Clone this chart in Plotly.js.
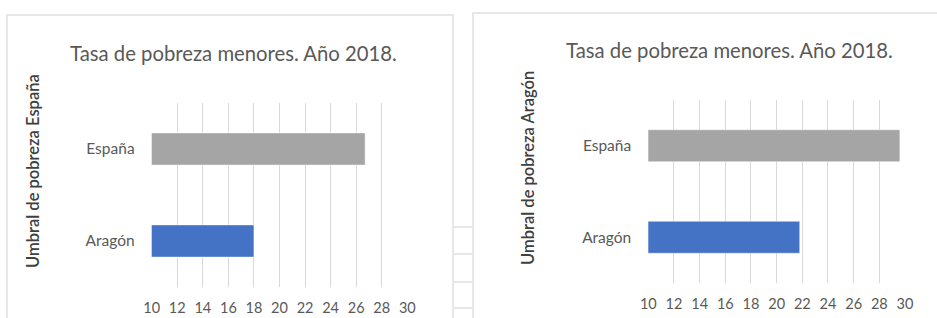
<!DOCTYPE html>
<html><head><meta charset="utf-8">
<script src="https://cdn.plot.ly/plotly-3.0.1.min.js"></script>
<style>html,body{margin:0;padding:0;background:#fff}#chart{width:937px;height:318px}</style>
</head><body><div id="chart"></div>
<script>
const categories = ['Aragón', 'España'];
const umbralEspana = [18.0, 26.7];
const umbralAragon = [21.8, 29.6];
const barColors = ['#4472c4', '#a5a5a5'];
const xTicks = [10, 12, 14, 16, 18, 20, 22, 24, 26, 28, 30];
const chartTitle = 'Tasa de pobreza menores. Año 2018.';
const yTitles = ['Umbral de pobreza España', 'Umbral de pobreza Aragón'];

const W = 937, H = 318;
const px = v => v / W, py = v => 1 - v / H;
const FONT = 'Lato, "Open Sans", sans-serif';
const TXT = '#595959';

const traces = [
  {type: 'bar', orientation: 'h', y: categories, x: umbralEspana, xaxis: 'x', yaxis: 'y',
   marker: {color: barColors, line: {color: '#ffffff', width: 0.5}}, hoverinfo: 'x'},
  {type: 'bar', orientation: 'h', y: categories, x: umbralAragon, xaxis: 'x2', yaxis: 'y2',
   marker: {color: barColors, line: {color: '#ffffff', width: 0.5}}, hoverinfo: 'x'}
];

function xax(d0, d1, anchor) {
  return {domain: [px(d0), px(d1)], anchor: anchor, range: [10, 30], tickvals: xTicks,
    showgrid: true, gridcolor: '#d9d9d9', gridwidth: 1, zeroline: false, showline: false,
    ticks: 'outside', ticklen: 8, tickcolor: 'rgba(0,0,0,0)',
    tickfont: {family: FONT, size: 14.5, color: TXT}, fixedrange: true};
}
function yax(top, bot, anchor) {
  return {domain: [py(bot), py(top)], anchor: anchor, type: 'category',
    showgrid: false, zeroline: false, showline: false,
    ticks: 'outside', ticklen: 13, tickcolor: 'rgba(0,0,0,0)',
    tickfont: {family: FONT, size: 15.5, color: TXT}, fixedrange: true};
}

const layout = {
  width: W, height: H, margin: {l: 0, r: 0, t: 0, b: 0},
  paper_bgcolor: '#ffffff', plot_bgcolor: 'rgba(0,0,0,0)',
  showlegend: false, bargap: 0.65,
  xaxis: xax(151.7, 407.3, 'y'),
  yaxis: yax(103, 287, 'x'),
  xaxis2: xax(648.3, 905, 'y2'),
  yaxis2: yax(100, 283, 'x2'),
  annotations: [
    {text: chartTitle, xref: 'paper', yref: 'paper', x: px(233), y: py(53), showarrow: false,
     xanchor: 'center', yanchor: 'middle', font: {family: FONT, size: 20.3, color: TXT}},
    {text: chartTitle, xref: 'paper', yref: 'paper', x: px(729), y: py(50), showarrow: false,
     xanchor: 'center', yanchor: 'middle', font: {family: FONT, size: 20.3, color: TXT}},
    {text: yTitles[0], xref: 'paper', yref: 'paper', x: px(33), y: py(171), showarrow: false,
     textangle: -90, xanchor: 'center', yanchor: 'middle', font: {family: FONT, size: 16.5, color: '#404040', weight: 600}},
    {text: yTitles[1], xref: 'paper', yref: 'paper', x: px(528), y: py(168), showarrow: false,
     textangle: -90, xanchor: 'center', yanchor: 'middle', font: {family: FONT, size: 16.5, color: '#404040', weight: 600}}
  ],
  shapes: [
    {type: 'rect', xref: 'paper', yref: 'paper', x0: px(7), x1: px(453), y0: -0.05, y1: py(15),
     line: {color: '#e0e0e0', width: 1.5}, fillcolor: 'rgba(0,0,0,0)', layer: 'below'},
    {type: 'rect', xref: 'paper', yref: 'paper', x0: px(473), x1: 1.05, y0: -0.05, y1: py(13),
     line: {color: '#e0e0e0', width: 1.5}, fillcolor: 'rgba(0,0,0,0)', layer: 'below'},
    ...[227, 254, 282, 308].map(yy => ({type: 'line', xref: 'paper', yref: 'paper',
      x0: px(454), x1: px(472), y0: py(yy), y1: py(yy), line: {color: '#d0d0d0', width: 1}}))
  ]
};

Plotly.newPlot('chart', traces, layout, {displayModeBar: false, staticPlot: true});
</script></body></html>
